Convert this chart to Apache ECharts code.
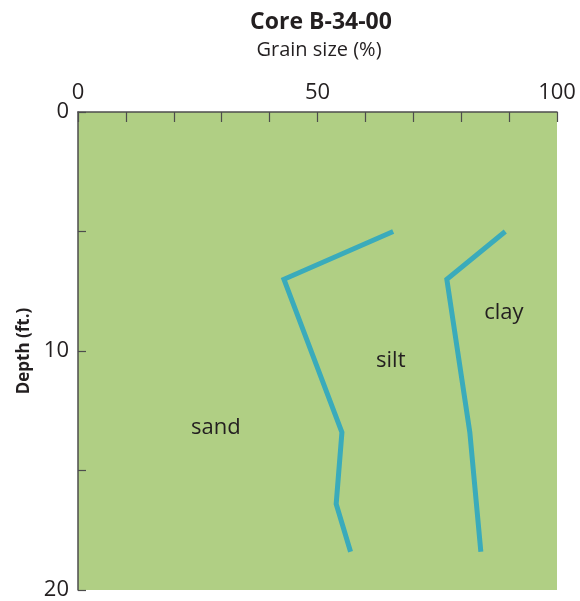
<!DOCTYPE html>
<html><head><meta charset="utf-8">
<script src="https://cdn.jsdelivr.net/npm/echarts@6/dist/echarts.min.js"></script>
<style>html,body{margin:0;padding:0;background:#fff}#c{width:580px;height:601px}</style>
</head><body><div id="c"></div>
<script>
const depths1 = [5, 7, 13.4, 16.4, 18.4];
const sandSilt = [65.8, 43, 55.1, 53.9, 56.9];
const depths2 = [5, 7, 13.4, 18.4];
const siltClay = [89.2, 77, 81.8, 84.1];
const zoneNames = ['sand', 'silt', 'clay'];
const zoneX = [28.8, 65.3, 88.9];
const zoneY = [13.2, 10.4, 8.4];
const xTickLabels = [0, 50, 100];
const yTickLabels = [0, 10, 20];

const font = '"Open Sans", "DejaVu Sans", sans-serif';
const ink = '#231f20';
const chart = echarts.init(document.getElementById('c'));
chart.setOption({
  animation: false,
  title: [
    {text: 'Core B-34-00', left: 316, top: 6, textAlign: 'center',
     textStyle: {fontFamily: font, fontSize: 23, fontWeight: 'bold', color: ink}},
    {text: 'Grain size (%)', left: 314, top: 35, textAlign: 'center',
     textStyle: {fontFamily: font, fontSize: 20, fontWeight: 'normal', color: ink}}
  ],
  grid: {left: 78, right: 23, top: 112, bottom: 10, show: true, backgroundColor: '#b0cf84', borderWidth: 0},
  xAxis: {
    type: 'value', position: 'top', min: 0, max: 100, interval: 10,
    axisLine: {show: true, lineStyle: {color: '#4d4d4d', width: 1.5}},
    axisTick: {show: true, inside: true, length: 10, lineStyle: {color: '#4d4d4d', width: 1.2}},
    splitLine: {show: false},
    axisLabel: {margin: 8, fontFamily: font, fontSize: 22, color: ink,
      formatter: v => xTickLabels.includes(v) ? String(v) : ''}
  },
  yAxis: {
    type: 'value', inverse: true, min: 0, max: 20, interval: 5,
    name: 'Depth (ft.)', nameLocation: 'middle', nameGap: 43, nameRotate: 90,
    nameTextStyle: {fontFamily: font, fontSize: 17, fontWeight: 'bold', color: ink},
    axisLine: {show: true, lineStyle: {color: '#4d4d4d', width: 1.5}},
    axisTick: {show: true, inside: true, length: 8, lineStyle: {color: '#4d4d4d', width: 1.2}},
    splitLine: {show: false},
    axisLabel: {margin: 9, fontFamily: font, fontSize: 22, color: ink,
      formatter: v => yTickLabels.includes(v) ? String(v) : ''}
  },
  series: [
    {type: 'line', data: depths1.map((d, i) => [sandSilt[i], d]), symbol: 'none',
     lineStyle: {color: '#3aabbb', width: 5, join: 'miter'}},
    {type: 'line', data: depths2.map((d, i) => [siltClay[i], d]), symbol: 'none',
     lineStyle: {color: '#3aabbb', width: 5, join: 'miter'}},
    {type: 'scatter', symbolSize: 0, silent: true, itemStyle: {opacity: 1},
     data: zoneNames.map((n, i) => ({name: n, value: [zoneX[i], zoneY[i]]})),
     label: {show: true, position: 'inside', formatter: p => p.name,
       fontFamily: font, fontSize: 22, color: ink}}
  ]
});
</script></body></html>
